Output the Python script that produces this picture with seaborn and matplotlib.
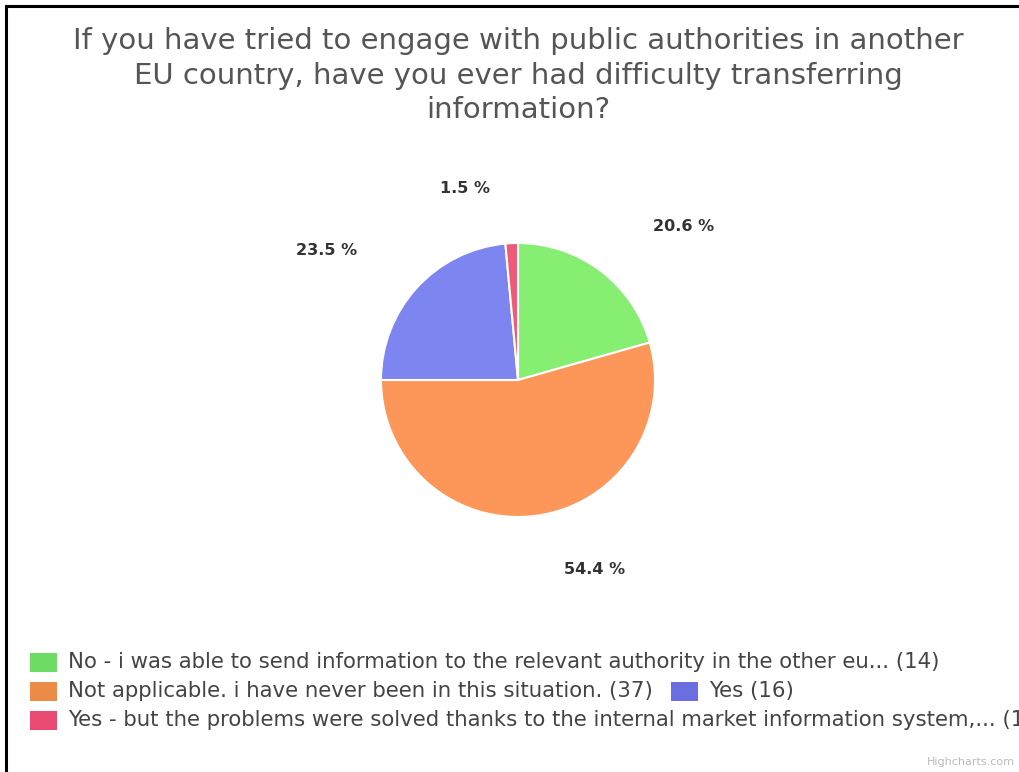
import matplotlib
matplotlib.use("Agg")
import matplotlib.pyplot as plt
import seaborn as sns
import numpy as np
from matplotlib.patches import Rectangle

# survey answers, counts and colours (Highcharts-ish)
answers = [
    "No - i was able to send information to the relevant authority in the other eu... (14)",
    "Not applicable. i have never been in this situation. (37)",
    "Yes (16)",
    "Yes - but the problems were solved thanks to the internal market information system,... (1)",
]
counts = [14, 37, 16, 1]
slice_colors = ["#86ef72", "#fd9659", "#7d85f0", "#ef5a78"]
legend_colors = ["#6cdc64", "#ec8a48", "#6a6ee0", "#e84a72"]
legend_rows = [[0], [1, 2], [3]]

title = ("If you have tried to engage with public authorities in another\n"
         "EU country, have you ever had difficulty transferring\n"
         "information?")

sns.set_theme(style="white")
plt.rcParams["font.family"] = ["DejaVu Sans"]

W, H = 1020, 772
fig = plt.figure(figsize=(W / 100, H / 100), dpi=100)
fig.patch.set_facecolor("white")

# pie centred at (518, 380) px, radius 137 px
r = 137
cx, cy = 518, 380
ax = fig.add_axes([(cx - 2 * r) / W, (H - cy - 2 * r) / H, 4 * r / W, 4 * r / H])
wedges, texts, autotexts = ax.pie(
    counts, colors=slice_colors, startangle=90, counterclock=False,
    autopct="%.1f %%", pctdistance=1.4,
    wedgeprops=dict(edgecolor="white", linewidth=1.5),
    textprops=dict(fontsize=11.5, fontweight="bold", color="#333333"),
)
# highcharts style: labels pushed sideways, aligned away from the pie
for t in autotexts:
    x, y = t.get_position()
    side = np.sign(x) if abs(x) > 1e-9 else 1
    t.set_position((x + side * 0.14, y))
    t.set_ha("left" if side > 0 else "right")
    t.set_va("center")
ax.set_xlim(-2, 2)
ax.set_ylim(-2, 2)
ax.set_aspect("equal")
ax.axis("off")

fig.text(cx / W, 1 - 27 / H, title, ha="center", va="top", fontsize=21,
         color="#555555", linespacing=1.3)

# legend
y0 = 662
for row_i, row in enumerate(legend_rows):
    y = 1 - (y0 + row_i * 29) / H
    x = 30
    for idx in row:
        fig.patches.append(Rectangle((x / W, y - 9.5 / H), 27 / W, 19 / H,
                                     transform=fig.transFigure, figure=fig,
                                     facecolor=legend_colors[idx], edgecolor="none"))
        t = fig.text((x + 38) / W, y, answers[idx], ha="left", va="center",
                     fontsize=15.3, color="#444444")
        fig.canvas.draw()
        bb = t.get_window_extent()
        x = bb.x1 + 18

fig.text(1015 / W, 1 - 762 / H, "Highcharts.com", ha="right", va="center",
         fontsize=8, color="#bbbbbb")

# frame (top and left edges visible)
fig.add_artist(Rectangle((6 / W, -0.2), 2, 1.2 - 6 / H, transform=fig.transFigure,
                         fill=False, edgecolor="black", linewidth=2.2))

fig.savefig("out.png", dpi=100)
